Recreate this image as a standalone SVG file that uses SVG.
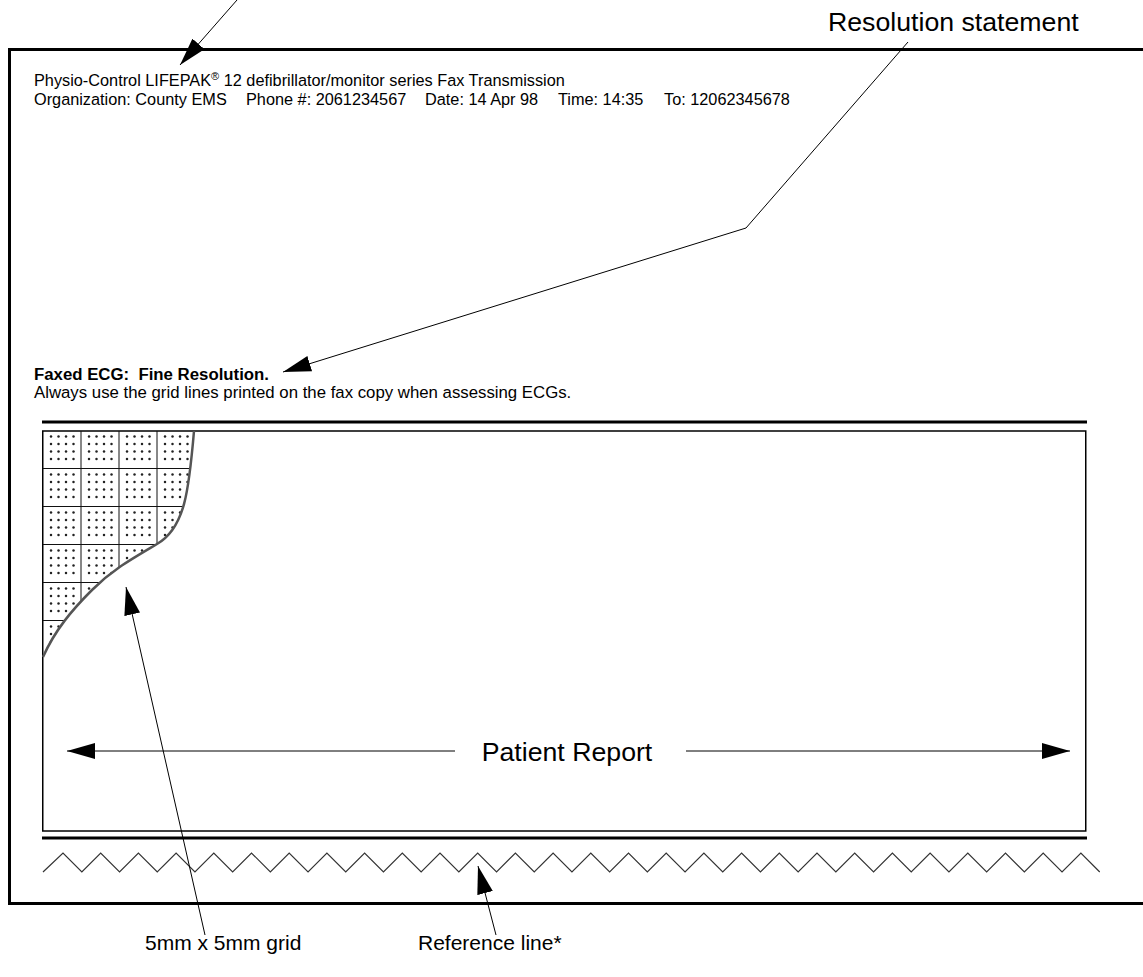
<svg xmlns="http://www.w3.org/2000/svg" width="1143" height="977" viewBox="0 0 1143 977">
<defs>
<style>
.small{font-family:"Liberation Sans",Arial,sans-serif;font-size:16.3px;fill:#000}
.note{font-family:"Liberation Sans",Arial,sans-serif;font-size:16.8px;fill:#000}
.big{font-family:"Liberation Sans",Arial,sans-serif;font-size:26.7px;fill:#000}
.lbl{font-family:"Liberation Sans",Arial,sans-serif;font-size:21px;fill:#000}
.thick{stroke:#000;stroke-width:3;fill:none}
.conn{stroke:#000;stroke-width:1;fill:none;marker-end:url(#ah)}
.grid{stroke:#111;stroke-width:1;fill:none}
</style>
<marker id="ah" viewBox="0 0 28 16" refX="28" refY="8" markerWidth="28" markerHeight="16" markerUnits="userSpaceOnUse" orient="auto">
<path d="M0,0 L28,8 L0,16 Z" fill="#000"/>
</marker>
<pattern id="dots" patternUnits="userSpaceOnUse" x="43" y="431" width="38" height="38">
<g fill="#222">
<circle cx="8" cy="5.5" r="1.25"/><circle cx="15.5" cy="5.5" r="1.25"/><circle cx="23" cy="5.5" r="1.25"/><circle cx="30.5" cy="5.5" r="1.25"/>
<circle cx="8" cy="13" r="1.25"/><circle cx="15.5" cy="13" r="1.25"/><circle cx="23" cy="13" r="1.25"/><circle cx="30.5" cy="13" r="1.25"/>
<circle cx="8" cy="20.5" r="1.25"/><circle cx="15.5" cy="20.5" r="1.25"/><circle cx="23" cy="20.5" r="1.25"/><circle cx="30.5" cy="20.5" r="1.25"/>
<circle cx="8" cy="28" r="1.25"/><circle cx="15.5" cy="28" r="1.25"/><circle cx="23" cy="28" r="1.25"/><circle cx="30.5" cy="28" r="1.25"/>
</g>
</pattern>
<clipPath id="gridclip">
<path d="M43,431 L194,431 C189,490 185,528 157,544 C130,560 112,570 92,590 C72,610 55,630 43,657 Z"/>
</clipPath>
</defs>
<rect width="1143" height="977" fill="#fff"/>

<g id="page-frame">
<path class="thick" d="M1143,49.5 L9.5,49.5 L9.5,903.5 L1143,903.5"/>
</g>

<g id="header">
<text class="small" x="34" y="86">Physio-Control LIFEPAK<tspan dy="-6" font-size="11">®</tspan><tspan dy="6"> 12 defibrillator/monitor series Fax Transmission</tspan></text>
<text class="small" y="105"><tspan x="34">Organization: County EMS</tspan><tspan x="246">Phone #: 2061234567</tspan><tspan x="425">Date: 14 Apr 98</tspan><tspan x="558">Time: 14:35</tspan><tspan x="664">To: 12062345678</tspan></text>
</g>

<g id="resolution-text">
<text class="note" x="34" y="380" font-weight="bold" xml:space="preserve">Faxed ECG:  Fine Resolution.</text>
<text class="note" x="34" y="398">Always use the grid lines printed on the fax copy when assessing ECGs.</text>
</g>

<g id="ecg-strip">
<line class="thick" x1="42" y1="422" x2="1087" y2="422"/>
<rect x="42.75" y="431" width="1043" height="400" fill="none" stroke="#000" stroke-width="1.5"/>
<line class="thick" x1="42" y1="838" x2="1087" y2="838"/>
</g>

<g id="grid-detail">
<g clip-path="url(#gridclip)">
<rect x="43" y="431" width="152" height="230" fill="url(#dots)"/>
<path class="grid" d="M81,431 V660 M119,431 V660 M157,431 V660 M43,468.5 H195 M43,506.5 H195 M43,544.5 H195 M43,582.5 H195 M43,620.5 H195"/>
</g>
<path d="M194,431 C189,490 185,528 157,544 C130,560 112,570 92,590 C72,610 55,630 43,657" fill="none" stroke="#555" stroke-width="2.5"/>
</g>

<g id="patient-report">
<text class="big" x="567" y="761" text-anchor="middle">Patient Report</text>
<line x1="455" y1="751" x2="67" y2="751" class="conn"/>
<line x1="686" y1="751" x2="1070" y2="751" class="conn"/>
</g>

<g id="reference-line">
<polyline fill="none" stroke="#333" stroke-width="1.2" points="43,872 63,853 81.85,872 100.7,853 119.55,872 138.4,853 157.25,872 176.1,853 194.95,872 213.8,853 232.65,872 251.5,853 270.35,872 289.2,853 308.05,872 326.9,853 345.75,872 364.6,853 383.45,872 402.3,853 421.15,872 440,853 458.85,872 477.7,853 496.55,872 515.4,853 534.25,872 553.1,853 571.95,872 590.8,853 609.65,872 628.5,853 647.35,872 666.2,853 685.05,872 703.9,853 722.75,872 741.6,853 760.45,872 779.3,853 798.15,872 817,853 835.85,872 854.7,853 873.55,872 892.4,853 911.25,872 930.1,853 948.95,872 967.8,853 986.65,872 1005.5,853 1024.35,872 1043.2,853 1062.05,872 1080.9,853 1099.75,872"/>
</g>

<g id="labels">
<text class="big" x="828" y="31">Resolution statement</text>
<text class="lbl" x="145" y="950">5mm x 5mm grid</text>
<text class="lbl" x="418" y="950">Reference line*</text>
</g>

<g id="connectors">
<line class="conn" x1="237" y1="0" x2="180" y2="65"/>
<polyline class="conn" points="908,42 746,228 283,372"/>
<line class="conn" x1="205" y1="935" x2="126" y2="587"/>
<line class="conn" x1="496" y1="935" x2="478" y2="866"/>
</g>
</svg>
